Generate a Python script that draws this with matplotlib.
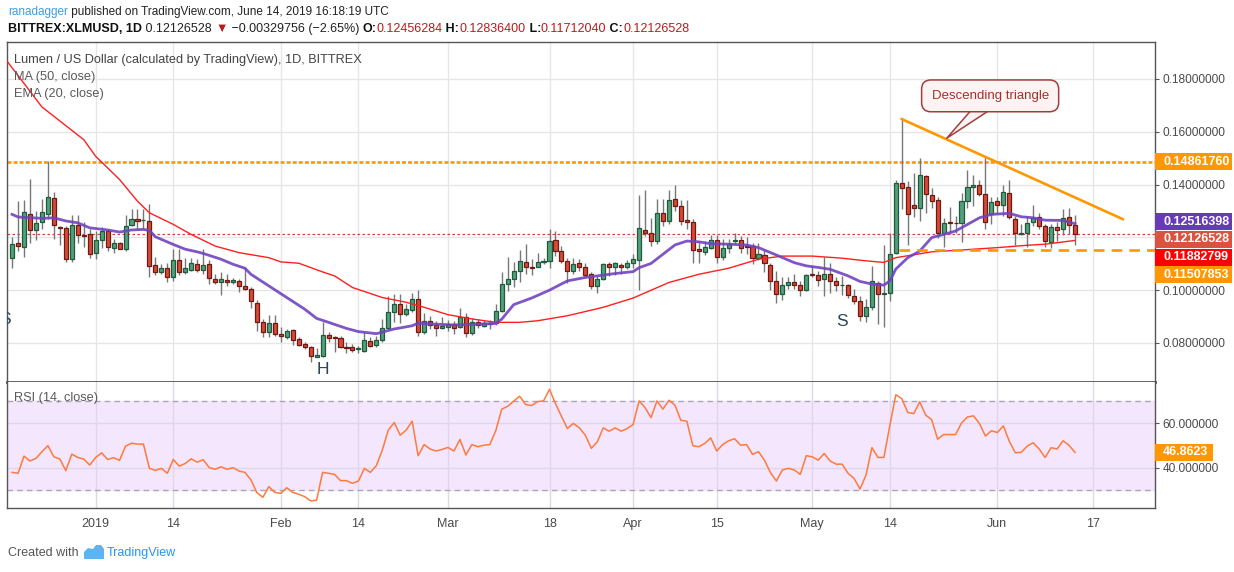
import matplotlib
matplotlib.use('Agg')
from matplotlib import pyplot as plt
import matplotlib.dates as mdates
from matplotlib.patches import Rectangle, Polygon
import numpy as np
import pandas as pd

plt.rcParams['font.family'] = ['Liberation Sans', 'DejaVu Sans']

W, H = 1234, 572

# daily candles, BITTREX:XLMUSD, first one 2018-12-18
start = '2018-12-18'
opens = [
    .1123, .1180, .1165, .1289, .1229, .1259, .1289, .1350, .1240, .1236,
    .1119, .1248, .1208, .1214, .1142, .1189, .1225, .1160, .1180, .1157,
    .1248, .1270, .1264, .1263, .1095, .1070, .1082, .1048, .1116, .1067,
    .1078, .1100, .1077, .1098, .1044, .1032, .1040, .1029, .1035, .1014,
    .1004, .0953, .0878, .0840, .0874, .0832, .0824, .0849, .0815, .0795,
    .0783, .0748, .0752, .0830, .0822, .0819, .0785, .0785, .0776, .0771,
    .0806, .0793, .0811, .0855, .0918, .0946, .0908, .0923, .0965, .0840,
    .0882, .0868, .0855, .0860, .0870, .0859, .0897, .0836, .0878, .0865,
    .0873, .0877, .0922, .1024, .1041, .1073, .1108, .1089, .1089, .1107,
    .1111, .1189, .1150, .1112, .1073, .1101, .1086, .1060, .1014, .1041,
    .1098, .1086, .1094, .1088, .1101, .1116, .1229, .1218, .1186, .1293,
    .1262, .1344, .1320, .1264, .1259, .1157, .1145, .1161, .1191, .1126,
    .1159, .1186, .1189, .1166, .1167, .1123, .1133, .1096, .1035, .0987,
    .1019, .1029, .1021, .0999, .1060, .1059, .1044, .1063, .1034, .1018,
    .1018, .0977, .0957, .0901, .0938, .1028, .0987, .0990, .1140, .1406,
    .1391, .1321, .1311, .1433, .1362, .1343, .1218, .1259, .1255, .1255,
    .1339, .1391, .1399, .1366, .1289, .1339, .1324, .1368, .1270, .1212,
    .1215, .1258, .1278, .1243, .1184, .1240, .1230, .1278, .12456284,
]
highs = [
    .1201, .1337, .1343, .1421, .1299, .1347, .1488, .1371, .1244, .1243,
    .1284, .1284, .1258, .1233, .1224, .1240, .1233, .1195, .1182, .1283,
    .1308, .1308, .1306, .1328, .1127, .1098, .1104, .1155, .1155, .1123,
    .1123, .1117, .1155, .1113, .1060, .1069, .1060, .1045, .1041, .1089,
    .1010, .0963, .0890, .0905, .0905, .0861, .0853, .0853, .0821, .0802,
    .0790, .0780, .0880, .0840, .0827, .0825, .0802, .0796, .0790, .0840,
    .0821, .0828, .0890, .0976, .0985, .0985, .0947, .0989, .1000, .0912,
    .0903, .0884, .0897, .0887, .0882, .0931, .0912, .0893, .0890, .0887,
    .0887, .0947, .1069, .1127, .1107, .1151, .1174, .1117, .1142, .1123,
    .1230, .1224, .1167, .1123, .1121, .1117, .1101, .1067, .1054, .1104,
    .1108, .1108, .1104, .1113, .1136, .1362, .1381, .1274, .1347, .1347,
    .1381, .1400, .1340, .1340, .1268, .1186, .1186, .1208, .1208, .1193,
    .1193, .1218, .1205, .1201, .1180, .1180, .1151, .1101, .1073, .1050,
    .1050, .1063, .1035, .1063, .1092, .1073, .1126, .1101, .1048, .1054,
    .1025, .1004, .0979, .0966, .1092, .1035, .1171, .1218, .1419, .1648,
    .1413, .1444, .1501, .1438, .1387, .1353, .1274, .1316, .1280, .1368,
    .1457, .1438, .1416, .1507, .1353, .1353, .1400, .1419, .1280, .1249,
    .1280, .1324, .1293, .1249, .1249, .1259, .1308, .1312, .12836400,
]
lows = [
    .1082, .1148, .1127, .1180, .1190, .1230, .1268, .1195, .1171, .1107,
    .1107, .1180, .1165, .1123, .1119, .1161, .1148, .1142, .1155, .1148,
    .1243, .1230, .1230, .1048, .1056, .1060, .1029, .1035, .1056, .1060,
    .1073, .1069, .1060, .1022, .1022, .0982, .1014, .1022, .0993, .0999,
    .0931, .0846, .0821, .0821, .0825, .0802, .0815, .0792, .0787, .0777,
    .0729, .0746, .0746, .0805, .0767, .0780, .0762, .0767, .0761, .0767,
    .0783, .0784, .0802, .0853, .0878, .0875, .0901, .0916, .0828, .0834,
    .0853, .0825, .0853, .0847, .0834, .0855, .0821, .0831, .0855, .0859,
    .0853, .0868, .0916, .0997, .1010, .1029, .1060, .1057, .1086, .1098,
    .1082, .1130, .1101, .1026, .1060, .1073, .1048, .1006, .0988, .1038,
    .1054, .1058, .1060, .1079, .1083, .1001, .1205, .1167, .1174, .1243,
    .1249, .1299, .1247, .1230, .1104, .1101, .1132, .1155, .1104, .1113,
    .1142, .1176, .1142, .1138, .1098, .1113, .1067, .1001, .0953, .0962,
    .1004, .1004, .0979, .0997, .1048, .1016, .0979, .0991, .0997, .0981,
    .0972, .0947, .0884, .0878, .0924, .0872, .0859, .0957, .1136, .1306,
    .1170, .1278, .1262, .1293, .1312, .1199, .1165, .1211, .1215, .1182,
    .1312, .1318, .1358, .1230, .1249, .1293, .1280, .1268, .1170, .1207,
    .1165, .1243, .1233, .1165, .1161, .1186, .1207, .1211, .11712040,
]
closes = [
    .1176, .1168, .1297, .1229, .1255, .1297, .1353, .1248, .1235, .1119,
    .1248, .1210, .1205, .1138, .1191, .1224, .1165, .1180, .1157, .1244,
    .1270, .1262, .1265, .1092, .1070, .1083, .1048, .1116, .1067, .1082,
    .1104, .1077, .1094, .1045, .1032, .1044, .1029, .1038, .1014, .1006,
    .0957, .0878, .0840, .0874, .0832, .0827, .0844, .0812, .0793, .0783,
    .0749, .0754, .0830, .0820, .0817, .0783, .0781, .0772, .0780, .0811,
    .0790, .0811, .0855, .0916, .0946, .0908, .0928, .0965, .0840, .0882,
    .0867, .0855, .0864, .0870, .0855, .0897, .0836, .0878, .0867, .0874,
    .0877, .0922, .1025, .1044, .1074, .1111, .1089, .1084, .1108, .1112,
    .1187, .1148, .1112, .1073, .1098, .1086, .1058, .1014, .1041, .1098,
    .1086, .1101, .1086, .1102, .1117, .1237, .1216, .1186, .1293, .1262,
    .1340, .1318, .1262, .1259, .1153, .1150, .1165, .1191, .1126, .1159,
    .1176, .1191, .1161, .1164, .1123, .1136, .1101, .1035, .0987, .1021,
    .1029, .1020, .0999, .1059, .1058, .1039, .1063, .1033, .1018, .1021,
    .0980, .0957, .0901, .0938, .1033, .0987, .0990, .1138, .1406, .1387,
    .1287, .1311, .1436, .1365, .1339, .1218, .1255, .1255, .1254, .1339,
    .1391, .1399, .1366, .1258, .1334, .1324, .1372, .1278, .1215, .1218,
    .1255, .1274, .1243, .1186, .1240, .1228, .1274, .1246, .12126528,
]
rsi = [
    37.9, 37.5, 45.2, 43.0, 44.2, 47.2, 49.9, 44.9, 43.9, 38.7,
    46.1, 44.6, 43.9, 41.2, 44.6, 46.7, 43.7, 44.5, 43.3, 49.7,
    51.0, 50.6, 50.6, 39.7, 38.8, 39.7, 37.5, 43.7, 40.7, 41.9,
    44.0, 42.5, 43.6, 40.1, 39.3, 40.4, 39.3, 40.0, 38.5, 37.9,
    34.5, 28.8, 26.7, 31.5, 28.9, 28.5, 31.0, 28.9, 28.1, 27.0,
    25.1, 25.4, 37.9, 37.5, 37.0, 34.2, 34.2, 33.0, 34.0, 39.7,
    37.9, 40.9, 47.9, 56.9, 60.3, 54.6, 56.9, 60.9, 45.4, 50.4,
    48.4, 47.5, 48.2, 49.1, 47.5, 52.7, 45.7, 50.4, 49.4, 50.1,
    50.4, 56.6, 66.3, 67.6, 69.9, 72.1, 68.4, 67.9, 69.7, 70.0,
    75.2, 68.8, 63.1, 57.6, 59.9, 57.9, 54.6, 48.7, 51.6, 57.9,
    56.4, 57.9, 56.4, 57.6, 59.4, 70.0, 67.0, 62.5, 70.0, 66.3,
    70.3, 68.1, 61.3, 60.9, 49.9, 49.4, 50.9, 53.4, 47.5, 50.4,
    52.1, 53.0, 50.1, 50.4, 46.0, 47.2, 43.4, 37.8, 34.0, 39.0,
    39.7, 39.0, 37.0, 45.4, 44.9, 43.4, 46.4, 43.0, 41.6, 41.6,
    37.5, 35.2, 30.4, 36.7, 49.0, 44.6, 44.6, 59.1, 72.8, 71.0,
    64.8, 64.3, 69.6, 63.6, 61.6, 52.8, 54.9, 54.9, 54.9, 60.1,
    62.8, 63.3, 59.9, 54.2, 56.6, 55.8, 58.8, 51.9, 46.7, 46.9,
    49.7, 51.2, 48.4, 44.6, 49.0, 48.4, 52.1, 50.1, 46.8623,
]

# moving averages
ma50_dates = ['2018-12-17', '2018-12-23', '2018-12-30', '2019-01-01', '2019-01-05',
              '2019-01-08', '2019-01-10', '2019-01-14', '2019-01-17', '2019-01-21',
              '2019-01-25', '2019-01-30', '2019-02-01', '2019-02-04', '2019-02-08',
              '2019-02-10', '2019-02-13', '2019-02-18', '2019-02-22', '2019-02-25',
              '2019-03-01', '2019-03-05', '2019-03-09', '2019-03-13', '2019-03-16',
              '2019-03-21', '2019-03-27', '2019-04-01', '2019-04-07', '2019-04-12',
              '2019-04-17', '2019-04-22', '2019-04-26', '2019-05-01', '2019-05-06',
              '2019-05-10', '2019-05-13', '2019-05-15', '2019-05-21', '2019-05-26',
              '2019-06-01', '2019-06-06', '2019-06-09', '2019-06-14']
ma50_vals = [.1872, .1694, .1570, .1507, .1419, .1337, .1293, .1249, .1211, .1167,
             .1142, .1123, .1107, .1102, .1069, .1054, .1010, .0972, .0954, .0935,
             .0907, .0891, .0878, .0878, .0884, .0903, .0935, .0970, .1029, .1060,
             .1083, .1117, .1129, .1129, .1121, .1111, .1105, .1123, .1145, .1152,
             .1161, .1170, .1174, .11882799]
ema20_dates = ['2018-12-18', '2018-12-19', '2018-12-23', '2018-12-25', '2018-12-27',
               '2018-12-29', '2018-12-31', '2019-01-03', '2019-01-05', '2019-01-07',
               '2019-01-09', '2019-01-10', '2019-01-11', '2019-01-14', '2019-01-16',
               '2019-01-18', '2019-01-19', '2019-01-22', '2019-01-24', '2019-01-26',
               '2019-01-27', '2019-01-30', '2019-02-02', '2019-02-05', '2019-02-07',
               '2019-02-09', '2019-02-12', '2019-02-14', '2019-02-17', '2019-02-20',
               '2019-02-23', '2019-02-24', '2019-02-26', '2019-03-02', '2019-03-07',
               '2019-03-09', '2019-03-10', '2019-03-12', '2019-03-15', '2019-03-18',
               '2019-03-21', '2019-03-24', '2019-03-27', '2019-03-29', '2019-04-01',
               '2019-04-02', '2019-04-04', '2019-04-06', '2019-04-08', '2019-04-10',
               '2019-04-12', '2019-04-14', '2019-04-17', '2019-04-20', '2019-04-22',
               '2019-04-25', '2019-04-28', '2019-04-30', '2019-05-02', '2019-05-04',
               '2019-05-07', '2019-05-09', '2019-05-11', '2019-05-13', '2019-05-14',
               '2019-05-15', '2019-05-17', '2019-05-19', '2019-05-21', '2019-05-23',
               '2019-05-25', '2019-05-27', '2019-05-29', '2019-05-31', '2019-06-03',
               '2019-06-05', '2019-06-07', '2019-06-09', '2019-06-12', '2019-06-14']
ema20_vals = [.1287, .1277, .1272, .1274, .1262, .1255, .1236, .1228, .1220, .1228,
              .1230, .1226, .1202, .1173, .1155, .1145, .1139, .1117, .1098, .1083,
              .1060, .1016, .0972, .0928, .0893, .0878, .0855, .0843, .0835, .0853,
              .0865, .0875, .0872, .0868, .0872, .0874, .0890, .0945, .0970, .1000,
              .1035, .1048, .1057, .1063, .1070, .1085, .1101, .1136, .1171, .1186,
              .1183, .1176, .1174, .1171, .1161, .1133, .1104, .1092, .1086, .1079,
              .1054, .1033, .1023, .1019, .1035, .1080, .1123, .1148, .1199, .1211,
              .1224, .1249, .1274, .1287, .1291, .1278, .1274, .1265, .1264, .12516398]

resistance = 0.14861760
support = 0.11507853
support_from = '2019-05-15 12:00'
trend_dates = ['2019-05-16', '2019-06-22']
trend_vals = [0.1648, 0.1269]

tick_dates = ['2019-01-01', '2019-01-14', '2019-02-01', '2019-02-14', '2019-03-01', '2019-03-18',
              '2019-04-01', '2019-04-15', '2019-05-01', '2019-05-14', '2019-06-01', '2019-06-17']
tick_names = ['2019', '14', 'Feb', '14', 'Mar', '18', 'Apr', '15', 'May', '14', 'Jun', '17']

n = len(closes)
assert len(opens) == n and len(highs) == n and len(lows) == n and len(rsi) == n
x = mdates.date2num(pd.date_range(start, periods=n, freq='D'))
o = np.array(opens); h = np.array(highs); l = np.array(lows); c = np.array(closes)
dnum = lambda s: mdates.date2num(pd.to_datetime(s))

fig = plt.figure(figsize=(W / 100, H / 100), dpi=100)
L, R = 7, 1155
ax = fig.add_axes([L / W, 1 - 382 / H, (R - L) / W, (382 - 42) / H])
axr = fig.add_axes([L / W, 1 - 508 / H, (R - L) / W, (508 - 382) / H], sharex=ax)

grid_c = '#e6e6e6'
txt_c = '#4a4a4a'

# candles
up = c >= o
lo = np.minimum(o, c)
hgt = np.maximum(np.abs(c - o), 0.00015)
ax.vlines(x, l, h, color='#777777', lw=1, zorder=3)
ax.bar(x[up], hgt[up], bottom=lo[up], width=0.68, color='#53a07b', edgecolor='#1f5a3c', lw=0.9, zorder=4)
ax.bar(x[~up], hgt[~up], bottom=lo[~up], width=0.68, color='#d64a37', edgecolor='#6e1a12', lw=0.9, zorder=4)

ax.plot(dnum(ma50_dates), ma50_vals, color='#ff1f1f', lw=1.0, zorder=5)
ax.plot(dnum(ema20_dates), ema20_vals, color='#7043c0', lw=2.0, alpha=0.9, zorder=5)

ax.axhline(c[-1], color='#e53935', lw=0.9, dashes=(2, 2), zorder=2)
ax.axhline(resistance, color='#ff9800', lw=1.9, dashes=(1.5, 0.8), zorder=2)
xr = x[0] + 191.4
ax.hlines(support, dnum(support_from), xr, color='#ff9800', lw=1.9, linestyles=[(0, (4, 2.7))], zorder=6)
ax.plot(dnum(trend_dates), trend_vals, color='#ff9800', lw=1.9, zorder=6)

ax.annotate('Descending triangle', xy=(dnum('2019-05-23 12:00'), 0.1575),
            xytext=(dnum('2019-05-30 19:00'), 0.1736), ha='center', va='center',
            fontsize=9.5, color='#a3312c', zorder=10,
            bbox=dict(boxstyle='round,pad=0.75,rounding_size=0.7', fc='#fdf3f3', ec='#a33d3d', lw=1.1),
            arrowprops=dict(arrowstyle='wedge,tail_width=1.2,shrink_factor=0.5', fc='#fdf3f3',
                            ec='#a33d3d', lw=1.1, relpos=(0.5, 0.12), patchA=None,
                            shrinkA=0, shrinkB=0))

pat_c = '#2c4552'
ax.text(x[0] - 1.2, 0.0887, 'S', fontsize=12.5, color=pat_c, ha='center', va='center', clip_on=True)
ax.text(dnum('2019-02-08'), 0.0698, 'H', fontsize=12.5, color=pat_c, ha='center', va='center')
ax.text(dnum('2019-05-06'), 0.0880, 'S', fontsize=12.5, color=pat_c, ha='center', va='center')

ax.set_xlim(x[0] - 0.85, xr)
ax.set_ylim(0.0652, 0.1940)
ax.set_yticks([0.08, 0.10, 0.12, 0.14, 0.16, 0.18])
ax.set_yticklabels(['0.08000000', '0.10000000', '', '0.14000000', '0.16000000', '0.18000000'])

# RSI pane
axr.axhspan(30, 70, color='#f3e6fd', zorder=0)
for lev in (30, 70):
    axr.axhline(lev, color='#aca5b3', lw=1, dashes=(4, 3), zorder=1)
axr.plot(x, rsi, color='#ff7a3d', lw=1.1, zorder=3)
axr.set_ylim(21.9, 78.5)
axr.set_yticks([40, 60])
axr.set_yticklabels(['40.000000', '60.000000'])
axr.set_xticks(dnum(tick_dates))
axr.set_xticklabels(tick_names)

for a in (ax, axr):
    a.yaxis.tick_right()
    a.grid(True, color=grid_c, lw=1, zorder=0)
    a.set_axisbelow(True)
    a.tick_params(axis='y', length=3, color='#555555', labelsize=8.6, labelcolor=txt_c, pad=2.5)
    for s in a.spines.values():
        s.set_color('#555555')
        s.set_linewidth(1)
axr.grid(True, color='#e0d6ea', lw=1)
ax.tick_params(axis='x', bottom=False, labelbottom=False)
axr.tick_params(axis='x', length=0, labelsize=9, labelcolor=txt_c, pad=7)
ax.spines['bottom'].set_linewidth(2)
axr.spines['top'].set_visible(False)


def fx(px):
    return px / W


def fy(py):
    return 1 - py / H


def line_of(parts, px, py, size):
    r = fig.canvas.get_renderer()
    for s, col, wt in parts:
        t = fig.text(fx(px), fy(py), s, color=col, fontsize=size, fontweight=wt, va='center', ha='left')
        px = t.get_window_extent(r).x1


red_v = '#b71c1c'
line_of([('ranadagger', '#3d9be0', 'normal'),
         (' published on TradingView.com, June 14, 2019 16:18:19 UTC', '#222222', 'normal')], 8, 12, 8.5)
line_of([('BITTREX:XLMUSD, 1D', '#111111', 'bold'), (' 0.12126528 ', '#222222', 'normal'),
         ('▼', red_v, 'normal'), (' −0.00329756 (−2.65%) ', '#222222', 'normal'),
         ('O:', '#111111', 'bold'), ('0.12456284', red_v, 'normal'),
         (' H:', '#111111', 'bold'), ('0.12836400', red_v, 'normal'),
         (' L:', '#111111', 'bold'), ('0.11712040', red_v, 'normal'),
         (' C:', '#111111', 'bold'), ('0.12126528', red_v, 'normal')], 8, 29, 9)

fig.text(fx(14), fy(60), 'Lumen / US Dollar (calculated by TradingView), 1D, BITTREX', color='#444444',
         fontsize=9.2, va='center')
fig.text(fx(14), fy(77), 'MA (50, close)', color='#5a5a5a', fontsize=9.2, va='center')
fig.text(fx(14), fy(94), 'EMA (20, close)', color='#5a5a5a', fontsize=9.2, va='center')
fig.text(fx(14), fy(398), 'RSI (14, close)', color='#5a5a5a', fontsize=9.2, va='center')


def tag(py, s, bg, width=77, hh=17):
    fig.patches.append(Rectangle((fx(R), fy(py + hh / 2)), width / W, hh / H, transform=fig.transFigure,
                                 facecolor=bg, edgecolor='none', zorder=5))
    fig.text(fx(1163), fy(py), s, color='white', fontsize=9, fontweight='bold', va='center', zorder=6)


def py_of(a, val):
    return H - a.transData.transform((x[0], val))[1]


tag(py_of(ax, resistance), '%.8f' % resistance, '#ff9800')
tag(222, '%.8f' % ema20_vals[-1], '#673ab7')
tag(239.5, '%.8f' % closes[-1], '#d9533e')
tag(257, '%.8f' % ma50_vals[-1], '#ff0000')
tag(274.5, '%.8f' % support, '#ff9800')
tag(py_of(axr, rsi[-1]), '%.4f' % rsi[-1], '#ff9800', width=58)

fig.text(fx(8), fy(553), 'Created with', color='#555555', fontsize=9, va='center')
fig.patches.append(Polygon([(fx(84), fy(559)), (fx(84), fy(552)), (fx(88), fy(548)), (fx(93), fy(549)),
                            (fx(96), fy(545)), (fx(101), fy(545)), (fx(104), fy(549)), (fx(104), fy(559))],
                           closed=True, transform=fig.transFigure, facecolor='#5ab4f5', edgecolor='none'))
fig.text(fx(107), fy(553), 'TradingView', color='#2196f3', fontsize=9, va='center')

fig.savefig('out.png', dpi=100)
